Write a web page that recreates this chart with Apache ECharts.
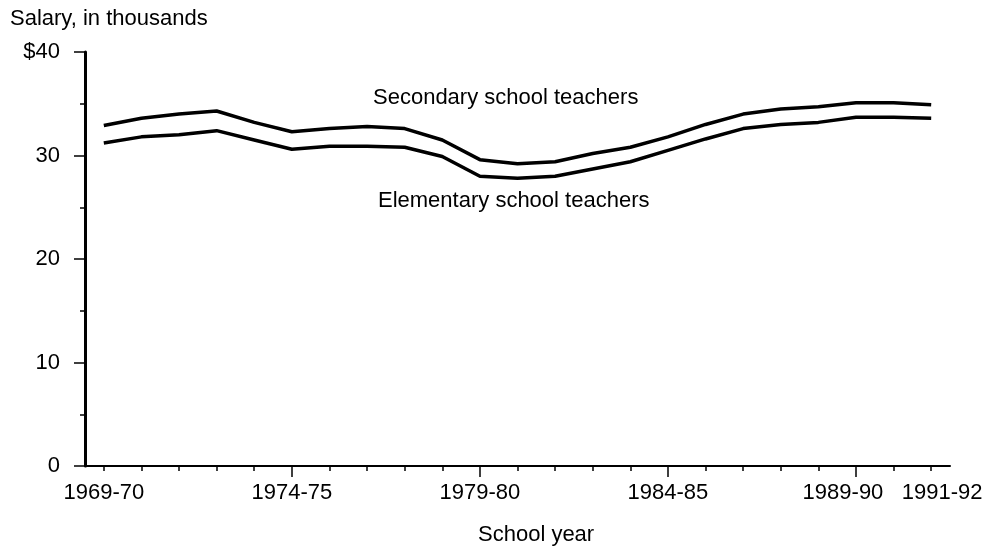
<!DOCTYPE html>
<html>
<head>
<meta charset="utf-8">
<script src="https://cdn.jsdelivr.net/npm/echarts@6/dist/echarts.min.js"></script>
<style>
  html, body { margin: 0; padding: 0; background: #fff; }
  #chart { width: 991px; height: 551px; }
</style>
</head>
<body>
<div id="chart"></div>
<script>
var schoolYears = ['1969-70','1970-71','1971-72','1972-73','1973-74','1974-75','1975-76','1976-77',
  '1977-78','1978-79','1979-80','1980-81','1981-82','1982-83','1983-84','1984-85','1985-86',
  '1986-87','1987-88','1988-89','1989-90','1990-91','1991-92'];
var secondary = [32.9,33.6,34.0,34.3,33.2,32.3,32.6,32.8,32.6,31.5,29.6,29.2,29.4,30.2,30.8,31.8,
  33.0,34.0,34.5,34.7,35.1,35.1,34.9];
var elementary = [31.2,31.8,32.0,32.4,31.5,30.6,30.9,30.9,30.8,29.9,28.0,27.8,28.0,28.7,29.4,30.5,
  31.6,32.6,33.0,33.2,33.7,33.7,33.6];
var labeledYears = [0, 5, 10, 15, 20, 22];
var majorTicks = [5, 10, 15, 20];

var FONT = '"Liberation Sans", Arial, Helvetica, sans-serif';
var FS = 22;

// nudge the two last labels apart like the print
var labelData = schoolYears.map(function (y, i) {
  if (i === 20) return { value: y, textStyle: { padding: [0, 26, 0, 0] } };
  if (i === 22) return { value: y, textStyle: { padding: [0, 0, 0, 22] } };
  return y;
});

var chart = echarts.init(document.getElementById('chart'));
chart.setOption({
  backgroundColor: '#fff',
  animation: false,
  grid: { left: 85, right: 41, top: 52, bottom: 85 },
  xAxis: [
    {
      type: 'category',
      data: schoolYears,
      boundaryGap: true,
      position: 'bottom',
      axisLine: { show: true, lineStyle: { color: '#000', width: 2 } },
      axisTick: { show: true, alignWithLabel: true, interval: 0, length: 5, lineStyle: { color: '#000', width: 1.5 } },
      axisLabel: { show: true, interval: 0, color: 'rgba(0,0,0,0)', fontSize: 8 },
      splitLine: { show: false }
    },
    {
      type: 'category',
      data: labelData,
      boundaryGap: true,
      position: 'bottom',
      axisLine: { show: false },
      axisTick: {
        show: true,
        alignWithLabel: true,
        length: 11,
        interval: function (i) { return majorTicks.indexOf(i) >= 0; },
        lineStyle: { color: '#000', width: 1.5 }
      },
      axisLabel: {
        interval: function (i) { return labeledYears.indexOf(i) >= 0; },
        margin: 16,
        color: '#000',
        fontSize: FS,
        fontFamily: FONT
      },
      splitLine: { show: false }
    }
  ],
  yAxis: {
    type: 'value',
    min: 0,
    max: 40,
    interval: 10,
    axisLine: { show: true, lineStyle: { color: '#000', width: 3 } },
    axisTick: { show: true, length: 11, lineStyle: { color: '#000', width: 1.5 } },
    minorTick: { show: true, splitNumber: 2, length: 5, lineStyle: { color: '#000', width: 1.5 } },
    axisLabel: {
      margin: 25,
      color: '#000',
      fontSize: FS,
      fontFamily: FONT,
      formatter: function (v) { return v === 40 ? '$40' : v; }
    },
    splitLine: { show: false }
  },
  graphic: [
    { type: 'text', left: 10, top: 8, style: { text: 'Salary, in thousands', fill: '#000', font: FS + 'px ' + FONT } },
    { type: 'text', left: 373, top: 87, style: { text: 'Secondary school teachers', fill: '#000', font: FS + 'px ' + FONT } },
    { type: 'text', left: 378, top: 190, style: { text: 'Elementary school teachers', fill: '#000', font: FS + 'px ' + FONT } },
    { type: 'text', left: 478, top: 524, style: { text: 'School year', fill: '#000', font: FS + 'px ' + FONT } }
  ],
  series: [
    {
      name: 'Secondary school teachers',
      type: 'line',
      data: secondary,
      symbol: 'none',
      lineStyle: { color: '#000', width: 3.5 }
    },
    {
      name: 'Elementary school teachers',
      type: 'line',
      data: elementary,
      symbol: 'none',
      lineStyle: { color: '#000', width: 3.5 }
    }
  ]
});
</script>
</body>
</html>
